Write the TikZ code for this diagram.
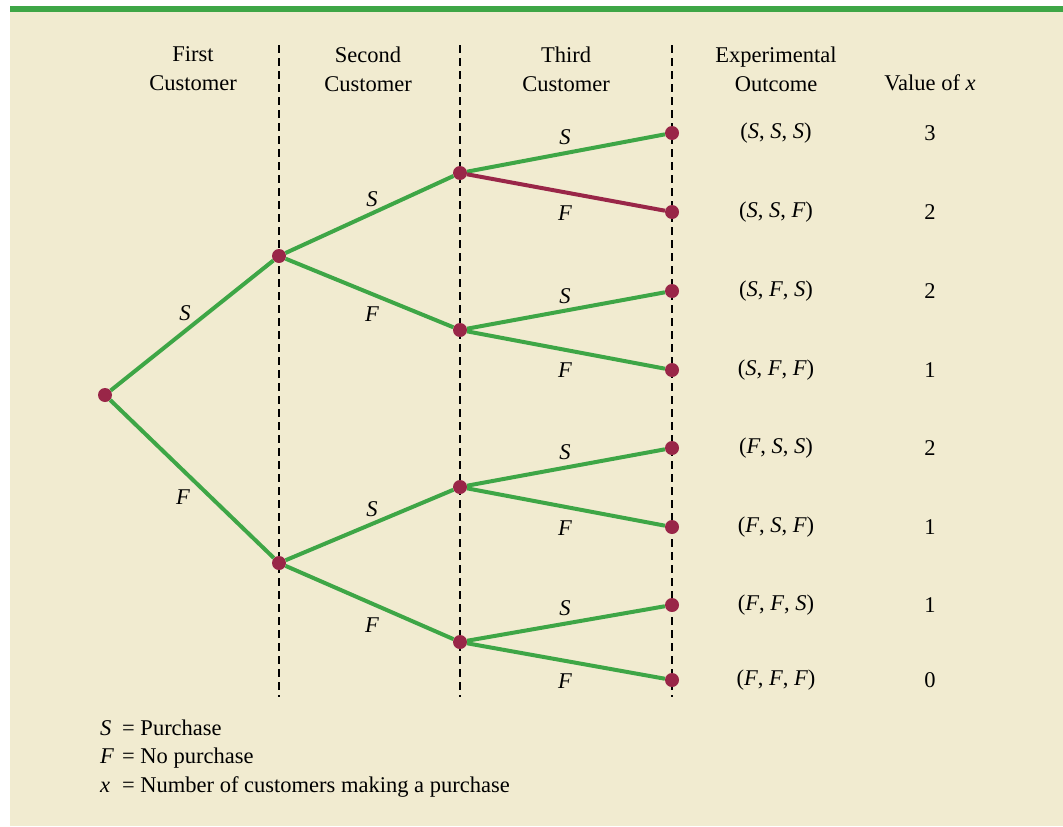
\documentclass[tikz,border=0pt]{standalone}
\usepackage{fontspec}
\setmainfont{Liberation Serif}
\definecolor{fondo}{RGB}{241,235,208}
\definecolor{verde}{RGB}{62,166,70}
\definecolor{granate}{RGB}{153,38,72}
\tikzset{
  punto/.style={circle, fill=granate, minimum size=14pt, inner sep=0pt},
  rama/.style={verde, line width=4pt},
  guia/.style={line width=1.9pt, dash pattern=on 8pt off 5pt},
  texto/.style={inner sep=0pt, font=\fontsize{22.5}{29}\selectfont, align=center}
}
\begin{document}
\begin{tikzpicture}[x=1pt, y=-1pt]
\useasboundingbox (0,0) rectangle (1063,827);
\fill[fondo] (10,12) rectangle (1063,826);
\fill[verde] (10,6) rectangle (1063,12);

% Columnas
\node[texto] (c1) at (193,69) {First\\Customer};
\node[texto] (c2) at (368,69) {Second\\Customer};
\node[texto] (c3) at (566,69) {Third\\Customer};
\node[texto] (c4) at (776,69) {Experimental\\Outcome};
\node[texto] (c5) at (930,83) {Value of \textit{x}};

	\foreach \x in {279, 460, 672}
		\draw[guia] (\x,45) -- (\x,697);

% Nodos del arbol
\node[punto] (r) at (105,395) {};
\node[punto] (a1) at (279,256) {};
\node[punto] (a2) at (279,563) {};
	\foreach \y [count=\i] in {173, 330, 487, 642}
		\node[punto] (b\i) at (460,\y) {};
	\foreach \y [count=\i] in {133, 212, 291, 370, 448, 527, 605, 680}
		\node[punto] (h\i) at (672,\y) {};

% Ramas
	\foreach \p/\q in {r/a1, r/a2, a1/b1, a1/b2, a2/b3, a2/b4, b1/h1, b2/h3, b2/h4, b3/h5, b3/h6, b4/h7, b4/h8}
		\draw[rama] (\p) -- (\q);
	\draw[rama, granate] (b1) -- (h2);

% Etiquetas de las ramas
\node[texto] (e1) at (185,313) {\textit{S}};
\node[texto] (e2) at (183,497) {\textit{F}};
	\foreach \y/\t [count=\i] in {199/S, 314/F, 509/S, 625/F}
		\node[texto] (m\i) at (372,\y) {\textit{\t}};
	\foreach \y/\t [count=\i] in {137/S, 213/F, 296/S, 370/F, 452/S, 528/F, 608/S, 681/F}
		\node[texto] (n\i) at (565,\y) {\textit{\t}};

% Resultados
	\foreach \a/\b/\c/\v/\y [count=\i] in {S/S/S/3/133, S/S/F/2/212, S/F/S/2/291, S/F/F/1/370, F/S/S/2/448, F/S/F/1/527, F/F/S/1/605, F/F/F/0/680}
	{
		\node[texto] (o\i) at (776,\y) {(\textit{\a}, \textit{\b}, \textit{\c})};
		\node[texto] (v\i) at (930,\y) {\v};
	}

% Leyenda
\node[texto, anchor=west] (k1) at (100,728) {\makebox[22pt][l]{\textit{S}}= Purchase};
\node[texto, anchor=west] (k2) at (100,758) {\makebox[22pt][l]{\textit{F}}= No purchase};
\node[texto, anchor=west] (k3) at (100,787) {\makebox[22pt][l]{\textit{x}}= Number of customers making a purchase};
\end{tikzpicture}
\end{document}
